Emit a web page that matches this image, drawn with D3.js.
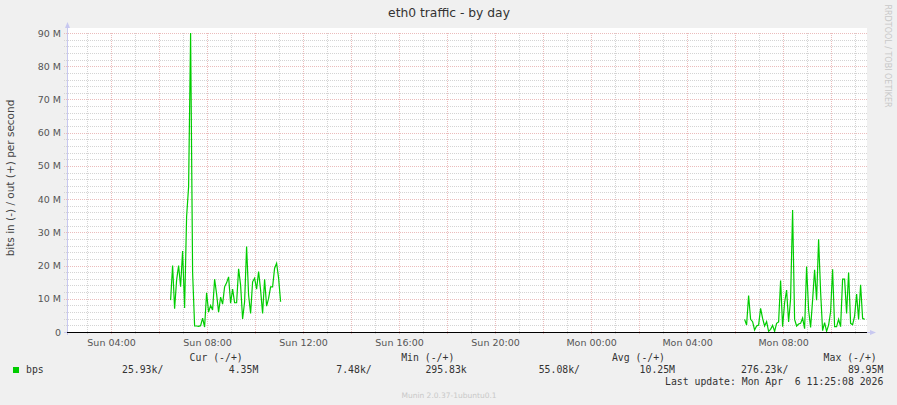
<!DOCTYPE html>
<html>
<head>
<meta charset="utf-8">
<script src="https://cdn.jsdelivr.net/npm/d3@7"></script>
<style>
  body { margin: 0; background: #f0f0f0; }
  svg { display: block; font-family: 'DejaVu Sans', sans-serif; }
  .mono { font-family: 'DejaVu Sans Mono', monospace; font-size: 9.8px; fill: #333; }
</style>
</head>
<body>
<svg id="chart" width="897" height="405"></svg>
<script>
// out (+) traffic, Mbit/s, one sample every 5 minutes
const burstSunStart = new Date(2026, 3, 5, 6, 30);
const burstSun = [9.6, 20, 7, 15.6, 20, 13.6, 24.4, 7.2, 34.7, 43.7, 90, 18, 1.8, 1.8, 1.7, 1.9,
    4.2, 1.5, 11.8, 6, 8, 6.6, 15.9, 11.4, 6, 10.5, 8.4, 13.6, 14.8, 16.6, 8.7, 12.9, 8.8, 8.8,
    19, 14.1, 3.9, 9.1, 25.7, 11.1, 5.6, 15.1, 16.2, 12.9, 18.2, 12.6, 5.6, 15.9, 7.8, 10.1,
    13.6, 13.6, 19.2, 20.7, 16.2, 9.1];
const burstMonStart = new Date(2026, 3, 6, 6, 25);
const burstMon = [3.8, 2.1, 11, 3.8, 3.1, 0.6, 1.8, 2.1, 7.1, 4.1, 1.8, 3.1, 0.2, 0.8, 2, 0.2,
    2.6, 3, 15.5, 1.6, 8.8, 12.6, 3, 10, 36.7, 3.8, 1.8, 2.4, 2.6, 4.2, 1, 19.7, 6.6, 1.4, 9.6,
    18.7, 9.6, 27.9, 12.1, 0.4, 2.8, 0.2, 2.1, 6.1, 18.9, 1.6, 1.6, 3.8, 1.6, 15.9, 15.9, 5.6,
    17.9, 2.6, 2.2, 4.8, 11.4, 3.8, 14.2, 4.1, 3.8];

const legendHeads = ['Cur (-/+)', 'Min (-/+)', 'Avg (-/+)', 'Max (-/+)'];
const legendIn = ['25.93k/', '7.48k/', '55.08k/', '276.23k/'];
const legendOut = ['4.35M', '295.83k', '10.25M', '89.95M'];

const GREEN = '#00cc00';
const MINOR = '#d4d4d4';
const MAJOR = '#ebbcbc';

const svg = d3.select('#chart');
const plotLeft = 67, plotRight = 867, plotTop = 33, plotBottom = 332;

const x = d3.scaleTime()
    .domain([new Date(2026, 3, 5, 2, 11), new Date(2026, 3, 6, 11, 31)])
    .range([plotLeft, plotRight]);
const y = d3.scaleLinear().domain([0, 90]).range([plotBottom, plotTop]);

function toPoints(start, values) {
    return values.map((v, i) => ({ t: new Date(+start + i * 5 * 60000), v: v }));
}

// plot background
svg.append('rect')
    .attr('x', plotLeft).attr('y', plotTop - 5)
    .attr('width', plotRight - plotLeft).attr('height', plotBottom - plotTop + 5)
    .attr('fill', '#fff');

// grid
const grid = svg.append('g').attr('shape-rendering', 'crispEdges');
grid.selectAll('.hmin').data(d3.range(2, 91, 2).filter(v => v % 10))
    .join('line')
    .attr('x1', plotLeft - 3).attr('x2', plotRight)
    .attr('y1', d => Math.round(y(d)) + 0.5).attr('y2', d => Math.round(y(d)) + 0.5)
    .attr('stroke', MINOR).attr('stroke-dasharray', '1,1');
grid.selectAll('.vmin').data(x.ticks(d3.timeHour.every(1)).filter(d => d.getHours() % 2))
    .join('line')
    .attr('x1', d => Math.round(x(d)) + 0.5).attr('x2', d => Math.round(x(d)) + 0.5)
    .attr('y1', plotTop).attr('y2', plotBottom + 3)
    .attr('stroke', MINOR).attr('stroke-dasharray', '1,1');
grid.selectAll('.hmaj').data(d3.range(10, 91, 10))
    .join('line')
    .attr('x1', plotLeft - 3).attr('x2', plotRight)
    .attr('y1', d => Math.round(y(d)) + 0.5).attr('y2', d => Math.round(y(d)) + 0.5)
    .attr('stroke', MAJOR).attr('stroke-dasharray', '1,1');
grid.selectAll('.vmaj').data(x.ticks(d3.timeHour.every(2)))
    .join('line')
    .attr('x1', d => Math.round(x(d)) + 0.5).attr('x2', d => Math.round(x(d)) + 0.5)
    .attr('y1', plotTop).attr('y2', plotBottom + 3)
    .attr('stroke', MAJOR).attr('stroke-dasharray', '1,1');

// tick labels
svg.append('g').selectAll('text').data(d3.range(0, 91, 10))
    .join('text')
    .attr('x', 61).attr('y', d => y(d) + 3.5)
    .attr('text-anchor', 'end')
    .attr('font-size', 9.5).attr('fill', '#555')
    .text(d => d === 0 ? '0' : d + ' M');

const fmt = d3.timeFormat('%a %H:%M');
svg.append('g').selectAll('text').data(x.ticks(d3.timeHour.every(4)))
    .join('text')
    .attr('x', d => x(d) + 1).attr('y', 346)
    .attr('text-anchor', 'middle')
    .attr('font-size', 9.5).attr('fill', '#555')
    .text(d => fmt(d));

// axes with arrows
const axisColor = '#c8c8f0';
svg.append('line').attr('x1', plotLeft + 0.5).attr('x2', plotLeft + 0.5)
    .attr('y1', plotBottom + 3).attr('y2', plotTop - 6)
    .attr('stroke', axisColor);
svg.append('path').attr('d', `M${plotLeft - 2},${plotTop - 5} L${plotLeft + 3},${plotTop - 5} L${plotLeft + 0.5},${plotTop - 11} Z`)
    .attr('fill', axisColor);
svg.append('line').attr('x1', plotLeft - 3).attr('x2', plotRight + 4)
    .attr('y1', plotBottom + 0.5).attr('y2', plotBottom + 0.5)
    .attr('stroke', axisColor);
svg.append('path').attr('d', `M${plotRight + 3},${plotBottom - 2} L${plotRight + 3},${plotBottom + 3} L${plotRight + 9},${plotBottom + 0.5} Z`)
    .attr('fill', axisColor);

// data
const line = d3.line().x(d => x(d.t)).y(d => y(d.v));
[toPoints(burstSunStart, burstSun), toPoints(burstMonStart, burstMon)].forEach(pts => {
    svg.append('path').datum(pts)
        .attr('d', line)
        .attr('fill', 'none')
        .attr('stroke', GREEN)
        .attr('stroke-width', 1.2)
        .attr('stroke-linejoin', 'miter');
});

// zero line
svg.append('line').attr('x1', plotLeft).attr('x2', plotRight)
    .attr('y1', plotBottom + 0.5).attr('y2', plotBottom + 0.5)
    .attr('stroke', '#000').attr('shape-rendering', 'crispEdges');

// title and axis label
svg.append('text').attr('x', 449).attr('y', 16.5)
    .attr('text-anchor', 'middle').attr('font-size', 12.3).attr('fill', '#333')
    .text('eth0 traffic - by day');
svg.append('text')
    .attr('transform', 'translate(14,178) rotate(-90)')
    .attr('text-anchor', 'middle').attr('font-size', 10.5).attr('fill', '#444')
    .text('bits in (-) / out (+) per second');
svg.append('text')
    .attr('transform', 'translate(885,56) rotate(90)')
    .attr('text-anchor', 'middle').attr('font-size', 8).attr('fill', '#c8c8c8')
    .text('RRDTOOL / TOBI OETIKER');

// legend
const headEnds = [242.7, 454.3, 665, 876.7];
svg.append('g').selectAll('text').data(legendHeads)
    .join('text').attr('class', 'mono')
    .attr('x', (d, i) => headEnds[i]).attr('y', 360.5)
    .attr('text-anchor', 'end')
    .text(d => d);

svg.append('rect').attr('x', 13).attr('y', 367).attr('width', 6).attr('height', 6)
    .attr('fill', GREEN);
svg.append('text').attr('class', 'mono').attr('x', 26).attr('y', 372.5).text('bps');

const inEnds = [163.3, 371.7, 580, 788.3];
const outEnds = [258.3, 466.7, 675, 883.3];
svg.append('g').selectAll('text').data(legendIn)
    .join('text').attr('class', 'mono')
    .attr('x', (d, i) => inEnds[i]).attr('y', 372.5)
    .attr('text-anchor', 'end').text(d => d);
svg.append('g').selectAll('text').data(legendOut)
    .join('text').attr('class', 'mono')
    .attr('x', (d, i) => outEnds[i]).attr('y', 372.5)
    .attr('text-anchor', 'end').text(d => d);

svg.append('text').attr('class', 'mono')
    .attr('x', 883.3).attr('y', 384.5).attr('text-anchor', 'end')
    .attr('xml:space', 'preserve').style('white-space', 'pre')
    .text('Last update: Mon Apr  6 11:25:08 2026');

svg.append('text').attr('x', 449).attr('y', 397.5)
    .attr('text-anchor', 'middle').attr('font-size', 7.5).attr('fill', '#c8c8c8')
    .text('Munin 2.0.37-1ubuntu0.1');
</script>
</body>
</html>
